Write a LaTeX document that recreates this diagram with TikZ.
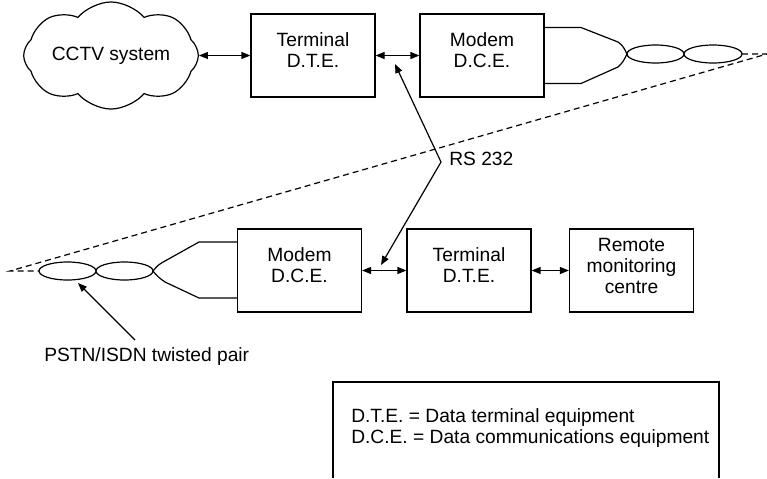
\documentclass[tikz,border=0pt]{standalone}
\usepackage{fontspec}
\setmainfont{Liberation Sans}
\usetikzlibrary{arrows.meta, shapes.symbols}

\begin{document}
\begin{tikzpicture}[x=0.5pt, y=-0.5pt, line width=0.6pt,
  font=\fontsize{9.6}{10.5}\selectfont,
  box/.style={draw, minimum width=62pt, minimum height=41.5pt,
    label={[align=center, yshift=2.5pt]center:{#1}}},
  link/.style={{Triangle[length=4.5pt,width=3.5pt]}-{Triangle[length=4.5pt,width=3.5pt]}},
  pointer/.style={-{Triangle[length=4.5pt,width=3.5pt]}},
  wire/.style={dash pattern=on 3pt off 2pt}]
  \useasboundingbox (0,0) rectangle (767,478);
  \node[cloud, draw, cloud puffs=8, cloud puff arc=100, aspect=2.1,
    minimum width=73pt, minimum height=35pt, inner sep=1pt] (cctv) at (111,55.5) {CCTV system};
  \node[box={Terminal\\D.T.E.}] (term1) at (313,55.5) {};
  \node[box={Modem\\D.C.E.}] (modem1) at (482,55.5) {};
  \node[box={Modem\\D.C.E.}] (modem2) at (299.5,270.5) {};
  \node[box={Terminal\\D.T.E.}] (term2) at (469,270.5) {};
  \node[box={Remote\\monitoring\\centre}] (remote) at (631.5,270.5) {};
  \draw[link] (cctv) -- (term1);
  \draw[link] (term1) -- (modem1);
  \draw[link] (modem2) -- (term2);
  \draw[link] (term2) -- (remote);
  \draw ([yshift=14pt]modem1.east) -- (581,27.5) -- (618,42)
    .. controls (623,46) .. (627,54) .. controls (623,62) .. (618,67)
    -- (581,83.5) -- ([yshift=-14pt]modem1.east);
  \draw (655.5,54) ellipse [x radius=14.25pt, y radius=4.5pt]
    (713,54) ellipse [x radius=14.5pt, y radius=4.5pt];
  \draw ([yshift=14.25pt]modem2.west) -- (199,242) -- (165,261)
    .. controls (158,265) .. (153,271) .. controls (158,277) .. (165,282)
    -- (199,298) -- ([yshift=-13.75pt]modem2.west);
  \draw (67.5,271) ellipse [x radius=14.25pt, y radius=4.5pt]
    (124.5,271) ellipse [x radius=14.25pt, y radius=4.5pt];
  \coordinate (farR) at (767,54);
  \coordinate (farL) at (10,271);
  \draw[wire] (742,54) -- (farR) -- (farL) -- (39,271);
  \coordinate (rsv) at (441,162);
  \coordinate (rsup) at (395,64);
  \coordinate (rsdn) at (381,265);
  \draw[link] (rsup) -- (rsv) -- (rsdn);
  \node[anchor=west] (rs) at (442,159) {RS 232};
  \coordinate (pstntip) at (78,283);
  \coordinate (pstntail) at (135,340);
  \draw[pointer] (pstntail) -- (pstntip);
  \node[anchor=west] (pstn) at (37,357) {PSTN/ISDN twisted pair};
  \draw (333,478) |- (719,382) -- (719,478);
  \node[anchor=west, align=left] (key) at (344,428.5)
    {D.T.E. = Data terminal equipment\\D.C.E. = Data communications equipment};
\end{tikzpicture}
\end{document}
